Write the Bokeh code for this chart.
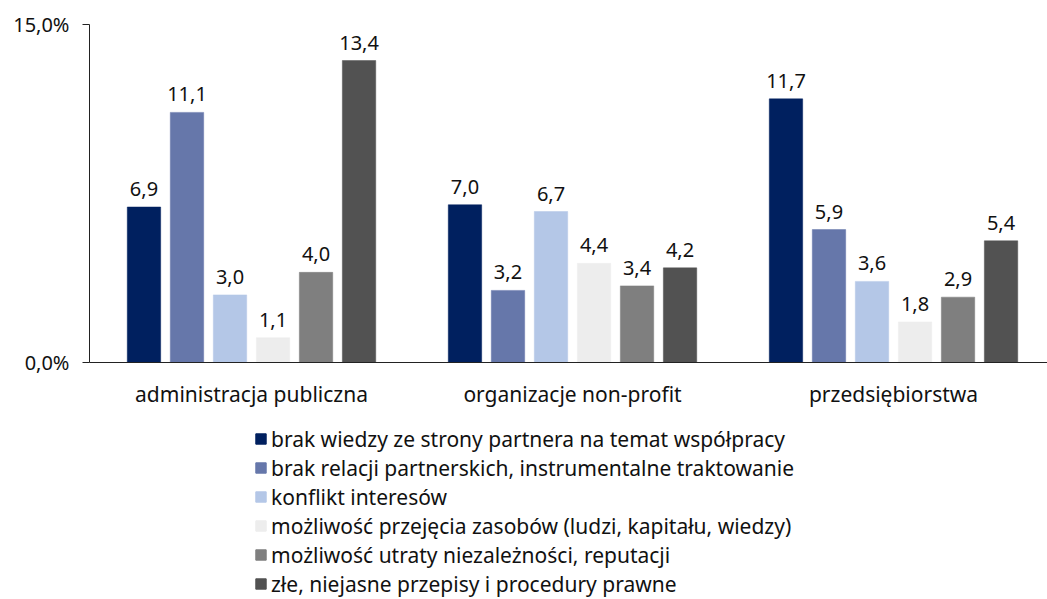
from bokeh.plotting import figure
from bokeh.models import ColumnDataSource, Legend, LegendItem, FixedTicker
from bokeh.layouts import column
from bokeh.embed import file_html
from bokeh.resources import INLINE
from bokeh.core.properties import value

# ---------------- data ----------------
categories = ["administracja publiczna", "organizacje non-profit", "przedsiębiorstwa"]
series_names = [
    "brak wiedzy ze strony partnera na temat współpracy",
    "brak relacji partnerskich, instrumentalne traktowanie",
    "konflikt interesów",
    "możliwość przejęcia zasobów (ludzi, kapitału, wiedzy)",
    "możliwość utraty niezależności, reputacji",
    "złe, niejasne przepisy i procedury prawne",
]
brak_wiedzy = [6.9, 7.0, 11.7]
brak_relacji = [11.1, 3.2, 5.9]
konflikt_interesow = [3.0, 6.7, 3.6]
przejecie_zasobow = [1.1, 4.4, 1.8]
utrata_niezaleznosci = [4.0, 3.4, 2.9]
zle_przepisy = [13.4, 4.2, 5.4]
series_values = [brak_wiedzy, brak_relacji, konflikt_interesow,
                 przejecie_zasobow, utrata_niezaleznosci, zle_przepisy]
colors = ["#00205F", "#6677AA", "#B4C7E7", "#EDEDED", "#7F7F7F", "#525252"]
y_ticks = [0, 15]
y_tick_labels = ["0,0%", "15,0%"]

FONT = "Noto Sans"
TXT = "#111111"

# ---------------- main chart ----------------
p = figure(width=1047, height=410, output_backend="svg", toolbar_location=None,
           x_range=(-0.5047, 2.4797), y_range=(0, 15),
           min_border_left=89, min_border_right=0, min_border_top=24,
           min_border_bottom=47)
p.outline_line_color = None
p.xgrid.grid_line_color = None
p.ygrid.grid_line_color = None
p.border_fill_color = "white"

step = 0.134
bar_w = 0.104
for i, (vals, col) in enumerate(zip(series_values, colors)):
    xs = [g + (i - 2.5) * step for g in range(len(categories))]
    src = ColumnDataSource(dict(x=xs, top=vals,
                                lab=[f"{v:.1f}".replace(".", ",") for v in vals]))
    p.vbar(x="x", top="top", bottom=0, width=bar_w, source=src,
           fill_color=col, line_color=col, line_width=0.5)
    p.text(x="x", y="top", text="lab", source=src, text_align="center",
           text_baseline="alphabetic", y_offset=-18, text_font=value(FONT),
           text_font_size="20px", text_color=TXT)

xa = p.xaxis[0]
xa.ticker = FixedTicker(ticks=list(range(len(categories))))
xa.major_label_overrides = {i: c for i, c in enumerate(categories)}
xa.major_tick_out = 0
xa.major_tick_in = 0
xa.minor_tick_out = 0
xa.minor_tick_in = 0
xa.axis_line_color = "#222222"
xa.major_label_standoff = 17
xa.major_label_text_font = FONT
xa.major_label_text_font_size = "21px"
xa.major_label_text_color = TXT

ya = p.yaxis[0]
ya.ticker = FixedTicker(ticks=y_ticks)
ya.major_label_overrides = {t: l for t, l in zip(y_ticks, y_tick_labels)}
ya.major_tick_out = 7
ya.major_tick_in = 0
ya.minor_tick_out = 0
ya.minor_tick_in = 0
ya.axis_line_color = "#222222"
ya.major_tick_line_color = "#222222"
ya.major_label_standoff = 13
ya.major_label_text_font = FONT
ya.major_label_text_font_size = "20px"
ya.major_label_text_color = TXT

# ---------------- legend panel ----------------
lg = figure(width=1047, height=189, output_backend="svg", toolbar_location=None,
            x_range=(0, 1), y_range=(0, 1), x_axis_type=None, y_axis_type=None,
            min_border_left=0, min_border_right=0, min_border_top=0,
            min_border_bottom=0)
lg.outline_line_color = None
lg.xgrid.grid_line_color = None
lg.ygrid.grid_line_color = None
items = []
for name, col in zip(series_names, colors):
    # off-screen swatch renderer, used only for the legend key
    r = lg.vbar(x=[5], top=[0], width=0.1, fill_color=col, line_color=col)
    items.append(LegendItem(label=name, renderers=[r]))
legend = Legend(items=items, location=(165, 1), orientation="vertical",
                padding=0, margin=0, spacing=0, glyph_width=13, glyph_height=13,
                label_height=29, label_standoff=4, label_text_font=FONT,
                label_text_font_size="21px", label_text_color=TXT,
                border_line_alpha=0, background_fill_alpha=0)
lg.add_layout(legend, "center")

layout = column(p, lg, spacing=0)
open("out.html", "w").write(file_html(layout, INLINE))
